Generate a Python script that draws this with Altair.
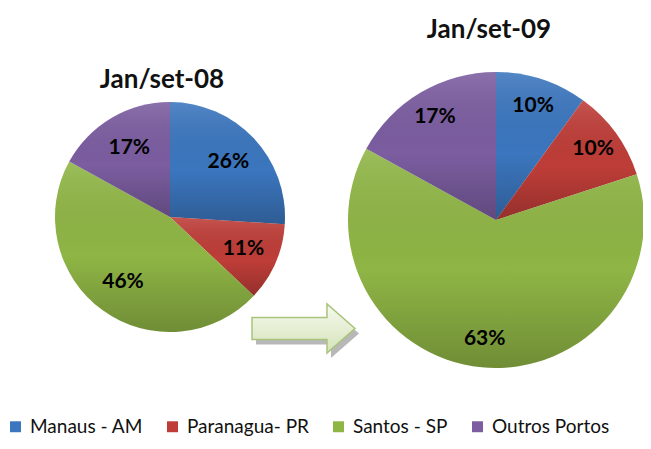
import altair as alt
import pandas as pd

categories = ["Manaus - AM", "Paranagua- PR", "Santos - SP", "Outros Portos"]
share_08 = [26, 11, 46, 17]
share_09 = [10, 10, 63, 17]
titles = ["Jan/set-08", "Jan/set-09"]
colors = ["#3B76BE", "#BE3D38", "#8FB545", "#7B5DA0"]


def frame(vals):
    return pd.DataFrame({
        "cat": categories,
        "value": vals,
        "order": list(range(len(vals))),
        "label": [f"{v}%" for v in vals],
    })


d08 = frame(share_08)
d09 = frame(share_09)

color = alt.Color(
    "cat:N",
    scale=alt.Scale(domain=categories, range=colors),
    legend=alt.Legend(
        title=None, orient="none", legendX=-2, legendY=409, direction="horizontal",
        columns=4, symbolType="square", symbolSize=120, symbolStrokeWidth=0,
        labelFont="Lato", labelFontSize=19, labelColor="#111111",
        columnPadding=20, labelOffset=5, padding=0,
    ),
)

shade = alt.Gradient(
    gradient="linear", x1=0, y1=0, x2=0, y2=1,
    stops=[
        alt.GradientStop(offset=0, color="rgba(255,255,255,0.12)"),
        alt.GradientStop(offset=0.55, color="rgba(0,0,0,0)"),
        alt.GradientStop(offset=1, color="rgba(0,0,0,0.22)"),
    ],
)


def pie(df, cx, cy, r, lr):
    arc = alt.Chart(df).mark_arc(outerRadius=r).encode(
        theta=alt.Theta("value:Q", stack=True),
        color=color,
        order=alt.Order("order:Q"),
        x=alt.value(cx), y=alt.value(cy),
    )
    overlay = alt.Chart(df).mark_arc(outerRadius=r, fill=shade).encode(
        theta=alt.Theta("value:Q", stack=True),
        order=alt.Order("order:Q"),
        detail="cat:N",
        x=alt.value(cx), y=alt.value(cy),
    )
    txt = alt.Chart(df).mark_text(
        radius=lr, font="Lato", fontSize=21, fontWeight="bold", color="black", baseline="middle"
    ).encode(
        theta=alt.Theta("value:Q", stack=True),
        order=alt.Order("order:Q"),
        detail="cat:N",
        text="label:N",
        x=alt.value(cx), y=alt.value(cy),
    )
    return arc, overlay, txt


arc1, ov1, txt1 = pie(d08, 162, 209, 115, 80)
arc2, ov2, txt2 = pie(d09, 488, 212, 148, 120)


def title(t, x, y):
    return alt.Chart(pd.DataFrame({"t": [t]})).mark_text(
        font="Lato", fontSize=26, fontWeight="bold", color="#111111", baseline="alphabetic"
    ).encode(text="t:N", x=alt.value(x), y=alt.value(y))


t1 = title(titles[0], 154, 80)
t2 = title(titles[1], 481, 30)

arrow_path = "M-1,-0.214L0.456,-0.214L0.456,-0.476L1,0L0.456,0.476L0.456,0.214L-1,0.214Z"
one = pd.DataFrame({"k": [1]})
shadow = alt.Chart(one).mark_point(
    shape=arrow_path, size=10609, filled=True, fill="#9a9a9a", opacity=0.7, strokeWidth=0
).encode(x=alt.value(299.5), y=alt.value(325.5))
arrow = alt.Chart(one).mark_point(
    shape=arrow_path, size=10609, filled=True, opacity=1, stroke="#A9C47C", strokeWidth=1.5,
    fill=alt.Gradient(
        gradient="linear", x1=0, y1=0, x2=0, y2=1,
        stops=[alt.GradientStop(offset=0, color="#F6F9EF"), alt.GradientStop(offset=1, color="#D5E3B8")],
    ),
).encode(x=alt.value(295.5), y=alt.value(320.5))

chart = alt.layer(shadow, arrow, arc1, ov1, txt1, arc2, ov2, txt2, t1, t2).properties(
    width=635, height=433, padding=0, autosize=alt.AutoSizeParams(type="none")
).configure_view(stroke=None)

chart.save("out.html", embed_options={"renderer": "svg", "actions": False})
